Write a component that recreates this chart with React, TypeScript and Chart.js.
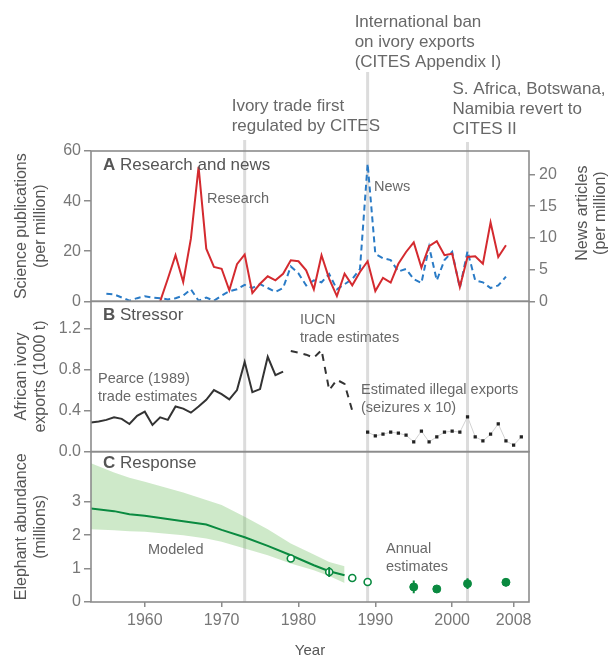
import React, { useEffect, useRef } from 'react';
import { Chart, registerables } from 'chart.js';

Chart.register(...registerables);

// ---------- data ----------
const xTickValues = [1960, 1970, 1980, 1990, 2000, 2008];
const researchTickValues = [0, 20, 40, 60];
const newsTickValues = [0, 5, 10, 15, 20];
const exportTickValues = [0, 0.4, 0.8, 1.2];
const abundanceTickValues = [0, 1, 2, 3];

const researchYears = [1962, 1963, 1964, 1965, 1966, 1967, 1968, 1969, 1970, 1971, 1972, 1973, 1974, 1975, 1976, 1977, 1978, 1979, 1980, 1981, 1982, 1983, 1984, 1985, 1986, 1987, 1988, 1989, 1990, 1991, 1992, 1993, 1994, 1995, 1996, 1997, 1998, 1999, 2000, 2001, 2002, 2003, 2004, 2005, 2006, 2007];
const researchValues = [0, 9, 18.4, 7.7, 25, 53.7, 21, 13.7, 13, 4.4, 14.8, 18.7, 3.3, 7, 10, 8.4, 11, 16.4, 16, 12.4, 4.8, 18.4, 9, 2.1, 11, 6.4, 11.7, 16, 4.1, 9.4, 7.5, 15, 19.7, 23.5, 13.5, 22, 24, 18.4, 19, 5.7, 17.7, 18, 15, 31.5, 17.7, 22.4];

const newsYears = [1955, 1956, 1957, 1958, 1959, 1960, 1961, 1962, 1963, 1964, 1965, 1966, 1967, 1968, 1969, 1970, 1971, 1972, 1973, 1974, 1975, 1976, 1977, 1978, 1979, 1980, 1981, 1982, 1983, 1984, 1985, 1986, 1987, 1988, 1989, 1990, 1991, 1992, 1993, 1994, 1995, 1996, 1997, 1998, 1999, 2000, 2001, 2002, 2003, 2004, 2005, 2006, 2007];
const newsValues = [1.2, 1.1, 0.6, 0.1, 0.5, 0.8, 0.6, 0.5, 0.3, 0.5, 0.9, 1.9, 0.1, 0.6, 0.1, 0.9, 1.6, 1.9, 2.6, 2.1, 2.7, 2.1, 1.5, 2.1, 5.5, 4.4, 2.5, 3.3, 3.0, 4.3, 1.9, 2.7, 3.5, 5.1, 21.7, 7.5, 6.8, 6.5, 4.7, 5.1, 3.5, 2.9, 8.6, 3.3, 6.5, 7.8, 2.1, 7.9, 3.3, 3.0, 2.1, 2.5, 3.9];

const pearceYears = [1953, 1954, 1955, 1956, 1957, 1958, 1959, 1960, 1961, 1962, 1963, 1964, 1965, 1966, 1967, 1968, 1969, 1970, 1971, 1972, 1973, 1974, 1975, 1976, 1977, 1978];
const pearceValues = [0.285, 0.295, 0.31, 0.335, 0.32, 0.27, 0.35, 0.39, 0.26, 0.335, 0.31, 0.44, 0.42, 0.38, 0.44, 0.505, 0.6, 0.56, 0.51, 0.6, 0.875, 0.58, 0.61, 0.925, 0.745, 0.78];

const iucnYears = [1979, 1980, 1981, 1982, 1983, 1984, 1985, 1986, 1987];
const iucnValues = [0.98, 0.965, 0.945, 0.915, 0.99, 0.6, 0.7, 0.66, 0.4];

const illegalYears = [1989, 1990, 1991, 1992, 1993, 1994, 1995, 1996, 1997, 1998, 1999, 2000, 2001, 2002, 2003, 2004, 2005, 2006, 2007, 2008, 2009];
const illegalValues = [0.19, 0.155, 0.17, 0.19, 0.18, 0.16, 0.095, 0.2, 0.095, 0.145, 0.19, 0.2, 0.19, 0.34, 0.145, 0.105, 0.17, 0.27, 0.105, 0.063, 0.145];

const modeledYears = [1953, 1956, 1958, 1960, 1965, 1968, 1970, 1973, 1976, 1979, 1982, 1984, 1986];
const modeledValues = [2.8, 2.72, 2.63, 2.58, 2.42, 2.32, 2.16, 1.94, 1.68, 1.4, 1.1, 0.92, 0.8];
const modeledUpper = [4.15, 3.88, 3.72, 3.6, 3.28, 3.05, 2.9, 2.55, 2.18, 1.75, 1.42, 1.2, 1.07];
const modeledLower = [2.18, 2.15, 2.12, 2.1, 2.0, 1.9, 1.8, 1.6, 1.4, 1.15, 0.95, 0.78, 0.57];

const surveyOpenYears = [1979, 1984, 1987, 1989];
const surveyOpenValues = [1.3, 0.9, 0.72, 0.6];
const surveyFilledYears = [1995, 1998, 2002, 2007];
const surveyFilledValues = [0.45, 0.39, 0.55, 0.59];
const errorYears = [1984, 1995, 1998, 2002, 2007];
const errorLow = [0.75, 0.26, 0.33, 0.39, 0.47];
const errorHigh = [1.05, 0.64, 0.45, 0.71, 0.71];

const eventYears = [1973, 1989, 2002];
const eventLabels = [
  ['Ivory trade first', 'regulated by CITES'],
  ['International ban', 'on ivory exports', '(CITES Appendix I)'],
  ['S. Africa, Botswana,', 'Namibia revert to', 'CITES II'],
];

// ---------- style ----------
const FONT = '"Liberation Sans", Arial, sans-serif';
const RED = '#d42a2f';
const BLUE = '#2a7bc6';
const DARK = '#333333';
const GREEN = '#0a8a40';
const BAND = 'rgba(120,195,105,0.36)';
const FRAME = '#8c8c8c';
const EVENT = '#dcdcdc';
const TEXT = '#686868';
const TICK = '#777777';

const pts = (xs: number[], ys: (number | null)[]) => xs.map((x, i) => ({ x, y: ys[i] }));

const errorData = () => {
  const out: { x: number; y: number | null }[] = [];
  errorYears.forEach((yr, i) => {
    out.push({ x: yr, y: errorLow[i] });
    out.push({ x: yr, y: errorHigh[i] });
    out.push({ x: yr, y: null });
  });
  return out;
};

const setTicks = (vals: number[]) => (s: any) => {
  s.ticks = vals.map((v) => ({ value: v }));
};

const leftAxis = (
  min: number,
  max: number,
  ticks: number[],
  title: string[],
  weight: number,
  fmt: (v: number) => string
) => ({
  type: 'linear' as const,
  position: 'left' as const,
  stack: 'L',
  stackWeight: 1,
  weight,
  min,
  max,
  afterBuildTicks: setTicks(ticks),
  afterFit: (s: any) => {
    s.width = 91;
  },
  grid: { display: true, drawOnChartArea: false, drawTicks: true, tickLength: 7, color: FRAME, lineWidth: 1.5 },
  border: { display: false },
  ticks: {
    autoSkip: false,
    padding: 3,
    color: TICK,
    font: { family: FONT, size: 16 },
    callback: (v: any) => fmt(Number(v)),
  },
  title: {
    display: true,
    text: title,
    color: '#555',
    font: { family: FONT, size: 16, lineHeight: 1.2 },
    padding: { top: 12, bottom: 0 },
  },
});

const dummyRight = (weight: number) => ({
  type: 'linear' as const,
  position: 'right' as const,
  stack: 'R',
  stackWeight: 1,
  weight,
  min: 0,
  max: 1,
  display: true,
  afterFit: (s: any) => {
    s.width = 80;
  },
  grid: { display: false },
  border: { display: false },
  ticks: { display: false },
  title: { display: false },
});

const overlay = {
  id: 'overlay',
  beforeDatasetsDraw(chart: any) {
    const { ctx, chartArea, scales } = chart;
    const lineTops = [140, 72, 142];
    ctx.save();
    ctx.strokeStyle = EVENT;
    ctx.lineWidth = 3;
    eventYears.forEach((yr, i) => {
      const px = scales.x.getPixelForValue(yr);
      ctx.beginPath();
      ctx.moveTo(px, lineTops[i]);
      ctx.lineTo(px, chartArea.bottom);
      ctx.stroke();
    });
    ctx.restore();
  },
  afterDatasetsDraw(chart: any) {
    const { ctx, chartArea, scales } = chart;
    ctx.save();
    ctx.strokeStyle = FRAME;
    ctx.lineWidth = 1.6;
    ['yA', 'yB', 'yC'].forEach((id) => {
      const s = scales[id];
      ctx.strokeRect(chartArea.left, s.top, chartArea.right - chartArea.left, s.bottom - s.top);
    });
    ctx.restore();
  },
  afterDraw(chart: any) {
    const { ctx, scales } = chart;
    const x = scales.x;
    ctx.save();
    ctx.textBaseline = 'middle';
    ctx.textAlign = 'left';

    // event annotations above the panels
    ctx.fillStyle = TEXT;
    ctx.font = `17px ${FONT}`;
    const firstY = [106, 22, 89];
    const offsets = [-13, -13, -15];
    eventYears.forEach((yr, i) => {
      const px = x.getPixelForValue(yr) + offsets[i];
      eventLabels[i].forEach((t, j) => ctx.fillText(t, px, firstY[i] + j * 20));
    });

    // panel titles
    const panelTitle = (letter: string, rest: string, y: number) => {
      ctx.fillStyle = '#555';
      ctx.font = `bold 17px ${FONT}`;
      ctx.fillText(letter, 103, y);
      const w = ctx.measureText(letter).width;
      ctx.font = `17px ${FONT}`;
      ctx.fillText(' ' + rest, 103 + w, y);
    };
    panelTitle('A', 'Research and news', scales.yA.top + 14);
    panelTitle('B', 'Stressor', scales.yB.top + 14);
    panelTitle('C', 'Response', scales.yC.top + 12);

    // inner labels
    ctx.fillStyle = TEXT;
    ctx.font = `14.5px ${FONT}`;
    const lab = (arr: string[], px: number, py: number) =>
      arr.forEach((t, j) => ctx.fillText(t, px, py + j * 17.5));
    lab(['Research'], 207, 199);
    lab(['News'], 374, 187);
    lab(['IUCN', 'trade estimates'], 300, 320);
    lab(['Pearce (1989)', 'trade estimates'], 98, 379);
    lab(['Estimated illegal exports', '(seizures x 10)'], 361, 390);
    lab(['Modeled'], 148, 550);
    lab(['Annual', 'estimates'], 386, 549);

    // right axis title (reads bottom-to-top)
    const yN = scales.yN;
    const cy = (yN.top + yN.bottom) / 2 - 13;
    ctx.fillStyle = '#555';
    ctx.font = `16px ${FONT}`;
    ctx.textAlign = 'center';
    [['News articles', yN.right - 26], ['(per million)', yN.right - 8]].forEach(([t, cx]) => {
      ctx.save();
      ctx.translate(cx as number, cy);
      ctx.rotate(-Math.PI / 2);
      ctx.fillText(t as string, 0, 0);
      ctx.restore();
    });
    ctx.restore();
  },
};

export default function App() {
  const ref = useRef<HTMLCanvasElement>(null);

  useEffect(() => {
    const canvas = ref.current;
    if (!canvas) return;
    const chart = new Chart(canvas, {
      type: 'line',
      data: {
        datasets: [
          {
            label: 'Research',
            data: pts(researchYears, researchValues),
            xAxisID: 'x',
            yAxisID: 'yA',
            borderColor: RED,
            borderWidth: 2,
            pointRadius: 0,
            fill: false,
          },
          {
            label: 'News',
            data: pts(newsYears, newsValues),
            xAxisID: 'x',
            yAxisID: 'yN',
            borderColor: BLUE,
            borderWidth: 2,
            borderDash: [6, 4],
            pointRadius: 0,
            fill: false,
          },
          {
            label: 'Pearce',
            data: pts(pearceYears, pearceValues),
            xAxisID: 'x',
            yAxisID: 'yB',
            borderColor: DARK,
            borderWidth: 2,
            pointRadius: 0,
            fill: false,
          },
          {
            label: 'IUCN',
            data: pts(iucnYears, iucnValues),
            xAxisID: 'x',
            yAxisID: 'yB',
            borderColor: DARK,
            borderWidth: 2,
            borderDash: [7, 6],
            pointRadius: 0,
            fill: false,
          },
          {
            label: 'Illegal',
            data: pts(illegalYears, illegalValues),
            xAxisID: 'x',
            yAxisID: 'yB',
            borderColor: '#d2d2d2',
            borderWidth: 1,
            pointStyle: 'rect',
            pointRadius: 2.3,
            pointBackgroundColor: '#222',
            pointBorderColor: '#222',
            pointBorderWidth: 0,
            fill: false,
          },
          {
            label: 'Errors',
            data: errorData(),
            xAxisID: 'x',
            yAxisID: 'yC',
            borderColor: GREEN,
            borderWidth: 2,
            pointRadius: 0,
            spanGaps: false,
            fill: false,
          },
          {
            label: 'Survey open',
            data: pts(surveyOpenYears, surveyOpenValues),
            xAxisID: 'x',
            yAxisID: 'yC',
            showLine: false,
            pointRadius: 3.5,
            pointBorderWidth: 1.6,
            pointBorderColor: GREEN,
            pointBackgroundColor: '#ffffff',
          },
          {
            label: 'Survey filled',
            data: pts(surveyFilledYears, surveyFilledValues),
            xAxisID: 'x',
            yAxisID: 'yC',
            showLine: false,
            pointRadius: 4,
            pointBorderWidth: 1,
            pointBorderColor: GREEN,
            pointBackgroundColor: GREEN,
          },
          {
            label: 'Modeled',
            data: pts(modeledYears, modeledValues),
            xAxisID: 'x',
            yAxisID: 'yC',
            borderColor: GREEN,
            borderWidth: 2,
            pointRadius: 0,
            fill: false,
          },
          {
            label: 'Upper',
            data: pts(modeledYears, modeledUpper),
            xAxisID: 'x',
            yAxisID: 'yC',
            borderWidth: 0,
            borderColor: 'rgba(0,0,0,0)',
            backgroundColor: BAND,
            pointRadius: 0,
            fill: '+1',
          },
          {
            label: 'Lower',
            data: pts(modeledYears, modeledLower),
            xAxisID: 'x',
            yAxisID: 'yC',
            borderWidth: 0,
            borderColor: 'rgba(0,0,0,0)',
            pointRadius: 0,
            fill: false,
          },
        ] as any,
      },
      options: {
        responsive: false,
        maintainAspectRatio: false,
        animation: false,
        events: [],
        layout: { padding: { top: 151, left: 0, right: 0, bottom: 0 } },
        plugins: { legend: { display: false }, tooltip: { enabled: false } },
        scales: {
          x: {
            type: 'linear',
            position: 'bottom',
            min: 1953,
            max: 2010,
            afterBuildTicks: setTicks(xTickValues),
            afterFit: (s: any) => {
              s.height = 56;
            },
            grid: { display: true, drawOnChartArea: false, drawTicks: true, tickLength: 5, color: FRAME, lineWidth: 1.5 },
            border: { display: false },
            ticks: {
              autoSkip: false,
              maxRotation: 0,
              padding: 4,
              color: TICK,
              font: { family: FONT, size: 16 },
              callback: (v: any) => String(v),
            },
            title: {
              display: true,
              text: 'Year',
              color: '#555',
              font: { family: FONT, size: 15, lineHeight: 1 },
              padding: { top: 0, bottom: 0 },
            },
          },
          yA: leftAxis(0, 60, researchTickValues, ['Science publications', '(per million)'], 3, (v) => String(v)),
          yB: leftAxis(0, 1.465, exportTickValues, ['African ivory', 'exports (1000 t)'], 2, (v) => v.toFixed(1)),
          yC: leftAxis(0, 4.5, abundanceTickValues, ['Elephant abundance', '(millions)'], 1, (v) => String(v)),
          yN: {
            type: 'linear',
            position: 'right',
            stack: 'R',
            stackWeight: 1,
            weight: 1,
            min: 0,
            max: 23.7,
            afterBuildTicks: setTicks(newsTickValues),
            afterFit: (s: any) => {
              s.width = 80;
            },
            grid: { display: true, drawOnChartArea: false, drawTicks: true, tickLength: 6, color: FRAME, lineWidth: 1.5 },
            border: { display: false },
            ticks: {
              autoSkip: false,
              padding: 4,
              color: TICK,
              font: { family: FONT, size: 16 },
              callback: (v: any) => String(v),
            },
            title: { display: false },
          },
          yR2: dummyRight(2),
          yR3: dummyRight(3),
        } as any,
      },
      plugins: [overlay],
    });
    return () => chart.destroy();
  }, []);

  return (
    <div style={{ position: 'fixed', left: 0, top: 0, width: 609, height: 658, background: '#ffffff' }}>
      <canvas ref={ref} width={609} height={658} style={{ display: 'block', width: 609, height: 658 }} />
    </div>
  );
}
